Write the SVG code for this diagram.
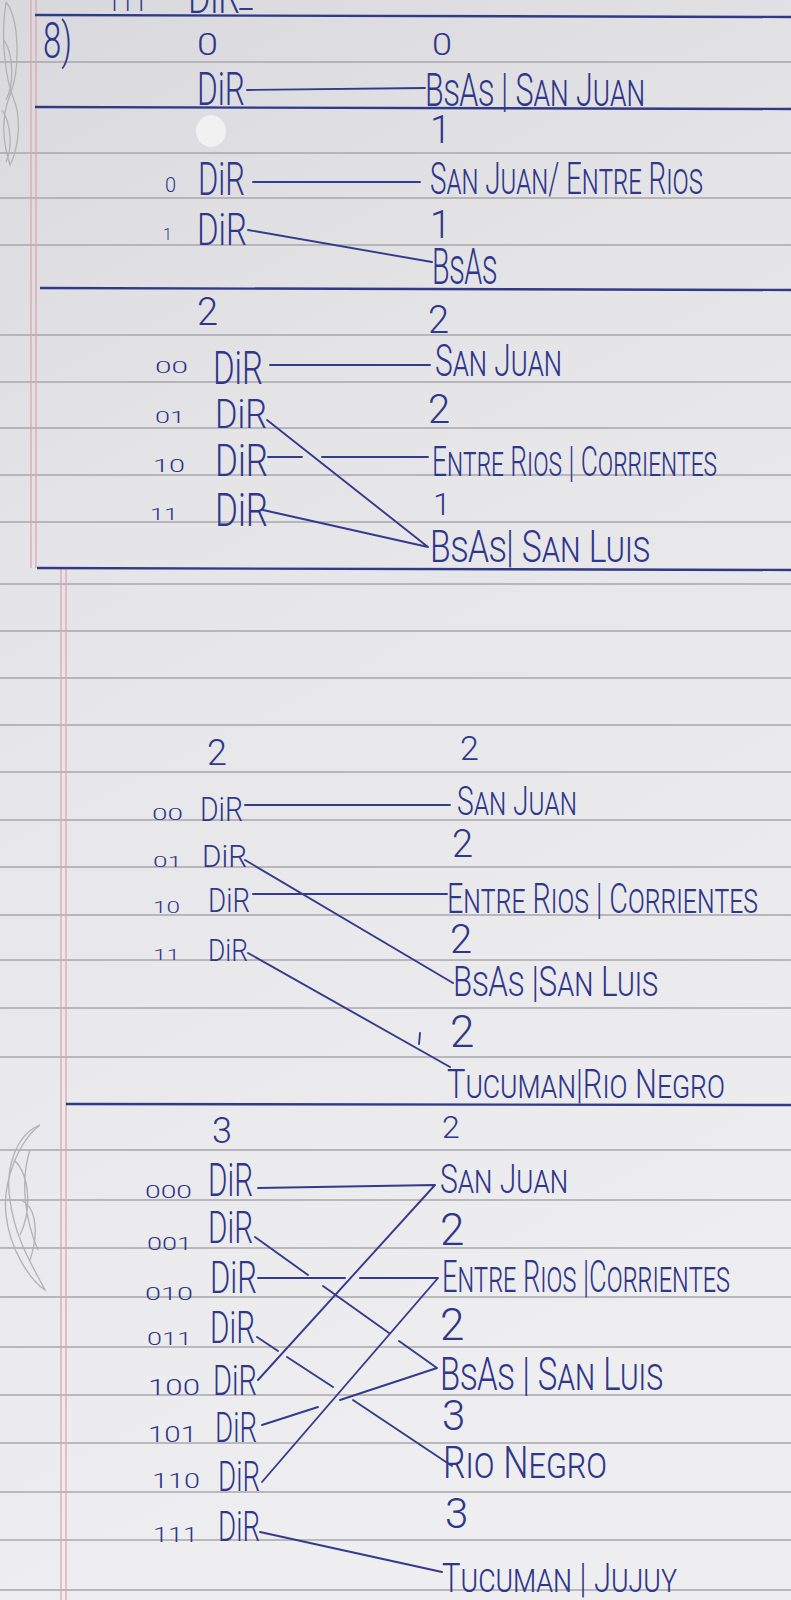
<svg xmlns="http://www.w3.org/2000/svg" width="791" height="1600" viewBox="0 0 791 1600">
<defs>
<linearGradient id="paper" x1="0" y1="0" x2="0.25" y2="1">
<stop offset="0" stop-color="#d9d9dd"/>
<stop offset="0.35" stop-color="#e5e5e8"/>
<stop offset="1" stop-color="#eeeef0"/>
</linearGradient>
<style>
.rule{stroke:#a7a7ad;stroke-width:1.3;fill:none}
.blue{stroke:#313a87;stroke-width:2.4;fill:none}
.red{stroke:#e3a4ae;stroke-width:1.3;fill:none}
.ink{stroke:#343b8c;stroke-width:1.9;fill:none;stroke-linecap:round}
.doodle{stroke:#b1b1b6;stroke-width:1.3;fill:none}
text{font-family:Roboto,"Liberation Sans",sans-serif;font-weight:300;fill:#2f378a}
.nm{font-variant:small-caps}
</style>
</defs>
<rect width="791" height="1600" fill="url(#paper)"/>
<g id="paper-rules">
<path class="rule" d="M0,62H791M0,153H791M0,198H791M0,245H791M0,335H791M0,382H791M0,428H791M0,475H791M0,522H791M0,584H791M0,631H791M0,678H791M0,725H791M0,772H791M0,820H791M0,867H791M0,915H791M0,960H791M0,1008H791M0,1057H791M0,1150H791M0,1200H791M0,1248H791M0,1297H791M0,1347H791M0,1395H791M0,1443H791M0,1492H791M0,1540H791M0,1590H791"/>
<path class="red" d="M31,0V568M36,0V568M61,568V1600M66,568V1600"/>
<path class="blue" d="M35,15L791,17M35,107L791,109M40,288L791,290M37,568L791,570M66,1104L791,1105"/>
<path class="doodle" d="M6,2C20,20 20,70 10,95C2,115 2,140 10,165C18,150 22,120 14,100C6,80 0,40 6,2M4,40C14,55 14,85 6,100M2,110C12,125 12,150 6,162"/>
<path class="doodle" d="M40,1125C15,1135 5,1170 10,1200C15,1240 35,1270 45,1290C30,1280 10,1250 6,1215C2,1180 20,1140 40,1125M30,1150C20,1180 25,1220 38,1250M14,1160C30,1175 32,1210 20,1235M20,1200C35,1205 40,1230 30,1260"/>
<ellipse cx="211" cy="131" rx="15" ry="16" fill="#f3f3f3" opacity="0.9"/>
</g>
<g id="header">
<text x="107" y="11" font-size="26" textLength="40" lengthAdjust="spacingAndGlyphs">111</text>
<text x="188" y="13" font-size="44" textLength="52" lengthAdjust="spacingAndGlyphs">DiR</text>
<text x="43" y="58" font-size="50" font-weight="400" textLength="29" lengthAdjust="spacingAndGlyphs">8)</text>
</g>
<g id="connectors">
<path class="ink" d="M240,9H252"/>
<path class="ink" d="M247,90L425,88M253,182L420,182M248,230L432,262"/>
<path class="ink" d="M270,365L430,365M267,420L428,547M268,457L302,457M322,457L428,457M263,510L428,547"/>
<path class="ink" d="M245,805L450,805M245,860L453,983M253,894L447,894M248,953L450,1067"/>
<path class="ink" d="M258,1188L435,1185M258,1380L435,1185M255,1237L308,1275M323,1286L389,1333M399,1341L437,1368M258,1278L345,1278M360,1278L438,1278M262,1482L438,1278M257,1337L278,1351M287,1357L333,1387M353,1400L452,1466M262,1425L318,1407M340,1400L437,1368M260,1532L442,1572"/>
<path class="ink" d="M420,1033L419,1044" stroke-width="2.6"/>
</g>
<g id="s0">
<g id="s0-dir"><text x="197" y="55" font-size="32" textLength="21" lengthAdjust="spacingAndGlyphs">0</text>
<text x="197" y="105" font-size="46" textLength="48" lengthAdjust="spacingAndGlyphs">DiR</text></g>
<g id="s0-b0"><text x="432" y="55" font-size="32" textLength="20" lengthAdjust="spacingAndGlyphs">0</text>
<text class="nm" x="425" y="106" font-size="46" textLength="220" lengthAdjust="spacingAndGlyphs">BsAs | San Juan</text></g>
</g>
<g id="s1">
<g id="s1-d0"><text x="165" y="192" font-size="20">0</text>
<text x="198" y="195" font-size="46" textLength="47" lengthAdjust="spacingAndGlyphs">DiR</text></g>
<g id="s1-d1"><text x="163" y="240" font-size="16">1</text>
<text x="197" y="245" font-size="44" textLength="50" lengthAdjust="spacingAndGlyphs">DiR</text></g>
<g id="s1-b0"><text x="430" y="143" font-size="38">1</text>
<text class="nm" x="430" y="194" font-size="44" textLength="273" lengthAdjust="spacingAndGlyphs">San Juan/ Entre Rios</text></g>
<g id="s1-b1"><text x="430" y="238" font-size="38">1</text>
<text class="nm" x="432" y="284" font-size="50" textLength="65" lengthAdjust="spacingAndGlyphs">BsAs</text></g>
</g>
<g id="s2">
<g id="s2-depth"><text x="197" y="325" font-size="38">2</text></g>
<g id="s2-d00"><text x="155" y="373" font-size="17" textLength="33" lengthAdjust="spacingAndGlyphs">00</text>
<text x="213" y="384" font-size="46" textLength="50" lengthAdjust="spacingAndGlyphs">DiR</text></g>
<g id="s2-d01"><text x="155" y="423" font-size="17" textLength="30" lengthAdjust="spacingAndGlyphs">01</text>
<text x="215" y="428" font-size="40" textLength="52" lengthAdjust="spacingAndGlyphs">DiR</text></g>
<g id="s2-d10"><text x="153" y="472" font-size="19" textLength="32" lengthAdjust="spacingAndGlyphs">10</text>
<text x="215" y="476" font-size="44" textLength="53" lengthAdjust="spacingAndGlyphs">DiR</text></g>
<g id="s2-d11"><text x="150" y="520" font-size="17" textLength="28" lengthAdjust="spacingAndGlyphs">11</text>
<text x="215" y="526" font-size="46" textLength="53" lengthAdjust="spacingAndGlyphs">DiR</text></g>
<g id="s2-b0"><text x="428" y="333" font-size="38">2</text>
<text class="nm" x="435" y="376" font-size="44" textLength="127" lengthAdjust="spacingAndGlyphs">San Juan</text></g>
<g id="s2-b1"><text x="428" y="423" font-size="40">2</text>
<text class="nm" x="432" y="476" font-size="42" textLength="285" lengthAdjust="spacingAndGlyphs">Entre Rios | Corrientes</text></g>
<g id="s2-b2"><text x="433" y="515" font-size="32">1</text>
<text class="nm" x="430" y="562" font-size="44" textLength="220" lengthAdjust="spacingAndGlyphs">BsAs| San Luis</text></g>
</g>
<g id="s3">
<g id="s3-depth"><text x="207" y="765" font-size="36">2</text></g>
<g id="s3-d00"><text x="152" y="820" font-size="17" textLength="31" lengthAdjust="spacingAndGlyphs">00</text>
<text x="200" y="821" font-size="34" textLength="43" lengthAdjust="spacingAndGlyphs">DiR</text></g>
<g id="s3-d01"><text x="153" y="867" font-size="15" textLength="29" lengthAdjust="spacingAndGlyphs">01</text>
<text x="202" y="867" font-size="32" textLength="45" lengthAdjust="spacingAndGlyphs">DiR</text></g>
<g id="s3-d10"><text x="153" y="913" font-size="17" textLength="27" lengthAdjust="spacingAndGlyphs">10</text>
<text x="208" y="912" font-size="34" textLength="42" lengthAdjust="spacingAndGlyphs">DiR</text></g>
<g id="s3-d11"><text x="153" y="960" font-size="15" textLength="27" lengthAdjust="spacingAndGlyphs">11</text>
<text x="208" y="961" font-size="32" textLength="40" lengthAdjust="spacingAndGlyphs">DiR</text></g>
<g id="s3-b0"><text x="460" y="760" font-size="34">2</text>
<text class="nm" x="457" y="815" font-size="40" textLength="120" lengthAdjust="spacingAndGlyphs">San Juan</text></g>
<g id="s3-b1"><text x="452" y="857" font-size="38">2</text>
<text class="nm" x="447" y="913" font-size="42" textLength="311" lengthAdjust="spacingAndGlyphs">Entre Rios | Corrientes</text></g>
<g id="s3-b2"><text x="450" y="953" font-size="40">2</text>
<text class="nm" x="453" y="996" font-size="42" textLength="205" lengthAdjust="spacingAndGlyphs">BsAs |San Luis</text></g>
<g id="s3-b3"><text x="450" y="1047" font-size="44">2</text>
<text class="nm" x="447" y="1098" font-size="40" textLength="278" lengthAdjust="spacingAndGlyphs">Tucuman|Rio Negro</text></g>
</g>
<g id="s4">
<g id="s4-depth"><text x="212" y="1143" font-size="36">3</text></g>
<g id="s4-d000"><text x="145" y="1198" font-size="19" textLength="47" lengthAdjust="spacingAndGlyphs">000</text>
<text x="208" y="1196" font-size="46" textLength="45" lengthAdjust="spacingAndGlyphs">DiR</text></g>
<g id="s4-d001"><text x="147" y="1250" font-size="18" textLength="45" lengthAdjust="spacingAndGlyphs">001</text>
<text x="208" y="1243" font-size="44" textLength="45" lengthAdjust="spacingAndGlyphs">DiR</text></g>
<g id="s4-d010"><text x="145" y="1300" font-size="19" textLength="48" lengthAdjust="spacingAndGlyphs">010</text>
<text x="210" y="1293" font-size="44" textLength="47" lengthAdjust="spacingAndGlyphs">DiR</text></g>
<g id="s4-d011"><text x="147" y="1345" font-size="19" textLength="45" lengthAdjust="spacingAndGlyphs">011</text>
<text x="210" y="1343" font-size="44" textLength="45" lengthAdjust="spacingAndGlyphs">DiR</text></g>
<g id="s4-d100"><text x="148" y="1395" font-size="22" textLength="52" lengthAdjust="spacingAndGlyphs">100</text>
<text x="213" y="1395" font-size="42" textLength="44" lengthAdjust="spacingAndGlyphs">DiR</text></g>
<g id="s4-d101"><text x="148" y="1442" font-size="22" textLength="49" lengthAdjust="spacingAndGlyphs">101</text>
<text x="215" y="1442" font-size="42" textLength="42" lengthAdjust="spacingAndGlyphs">DiR</text></g>
<g id="s4-d110"><text x="152" y="1488" font-size="20" textLength="48" lengthAdjust="spacingAndGlyphs">110</text>
<text x="218" y="1491" font-size="42" textLength="42" lengthAdjust="spacingAndGlyphs">DiR</text></g>
<g id="s4-d111"><text x="153" y="1542" font-size="20" textLength="45" lengthAdjust="spacingAndGlyphs">111</text>
<text x="218" y="1541" font-size="42" textLength="42" lengthAdjust="spacingAndGlyphs">DiR</text></g>
<g id="s4-b0"><text x="442" y="1138" font-size="32">2</text>
<text class="nm" x="440" y="1193" font-size="40" textLength="128" lengthAdjust="spacingAndGlyphs">San Juan</text></g>
<g id="s4-b1"><text x="440" y="1245" font-size="44">2</text>
<text class="nm" x="442" y="1292" font-size="44" textLength="288" lengthAdjust="spacingAndGlyphs">Entre Rios |Corrientes</text></g>
<g id="s4-b2"><text x="440" y="1340" font-size="44">2</text>
<text class="nm" x="440" y="1390" font-size="46" textLength="223" lengthAdjust="spacingAndGlyphs">BsAs | San Luis</text></g>
<g id="s4-b3"><text x="442" y="1430" font-size="42">3</text>
<text class="nm" x="443" y="1478" font-size="44" textLength="164" lengthAdjust="spacingAndGlyphs">Rio Negro</text></g>
<g id="s4-b4"><text x="445" y="1528" font-size="42">3</text>
<text class="nm" x="442" y="1592" font-size="40" textLength="235" lengthAdjust="spacingAndGlyphs">Tucuman | Jujuy</text></g>
</g>
</svg>
